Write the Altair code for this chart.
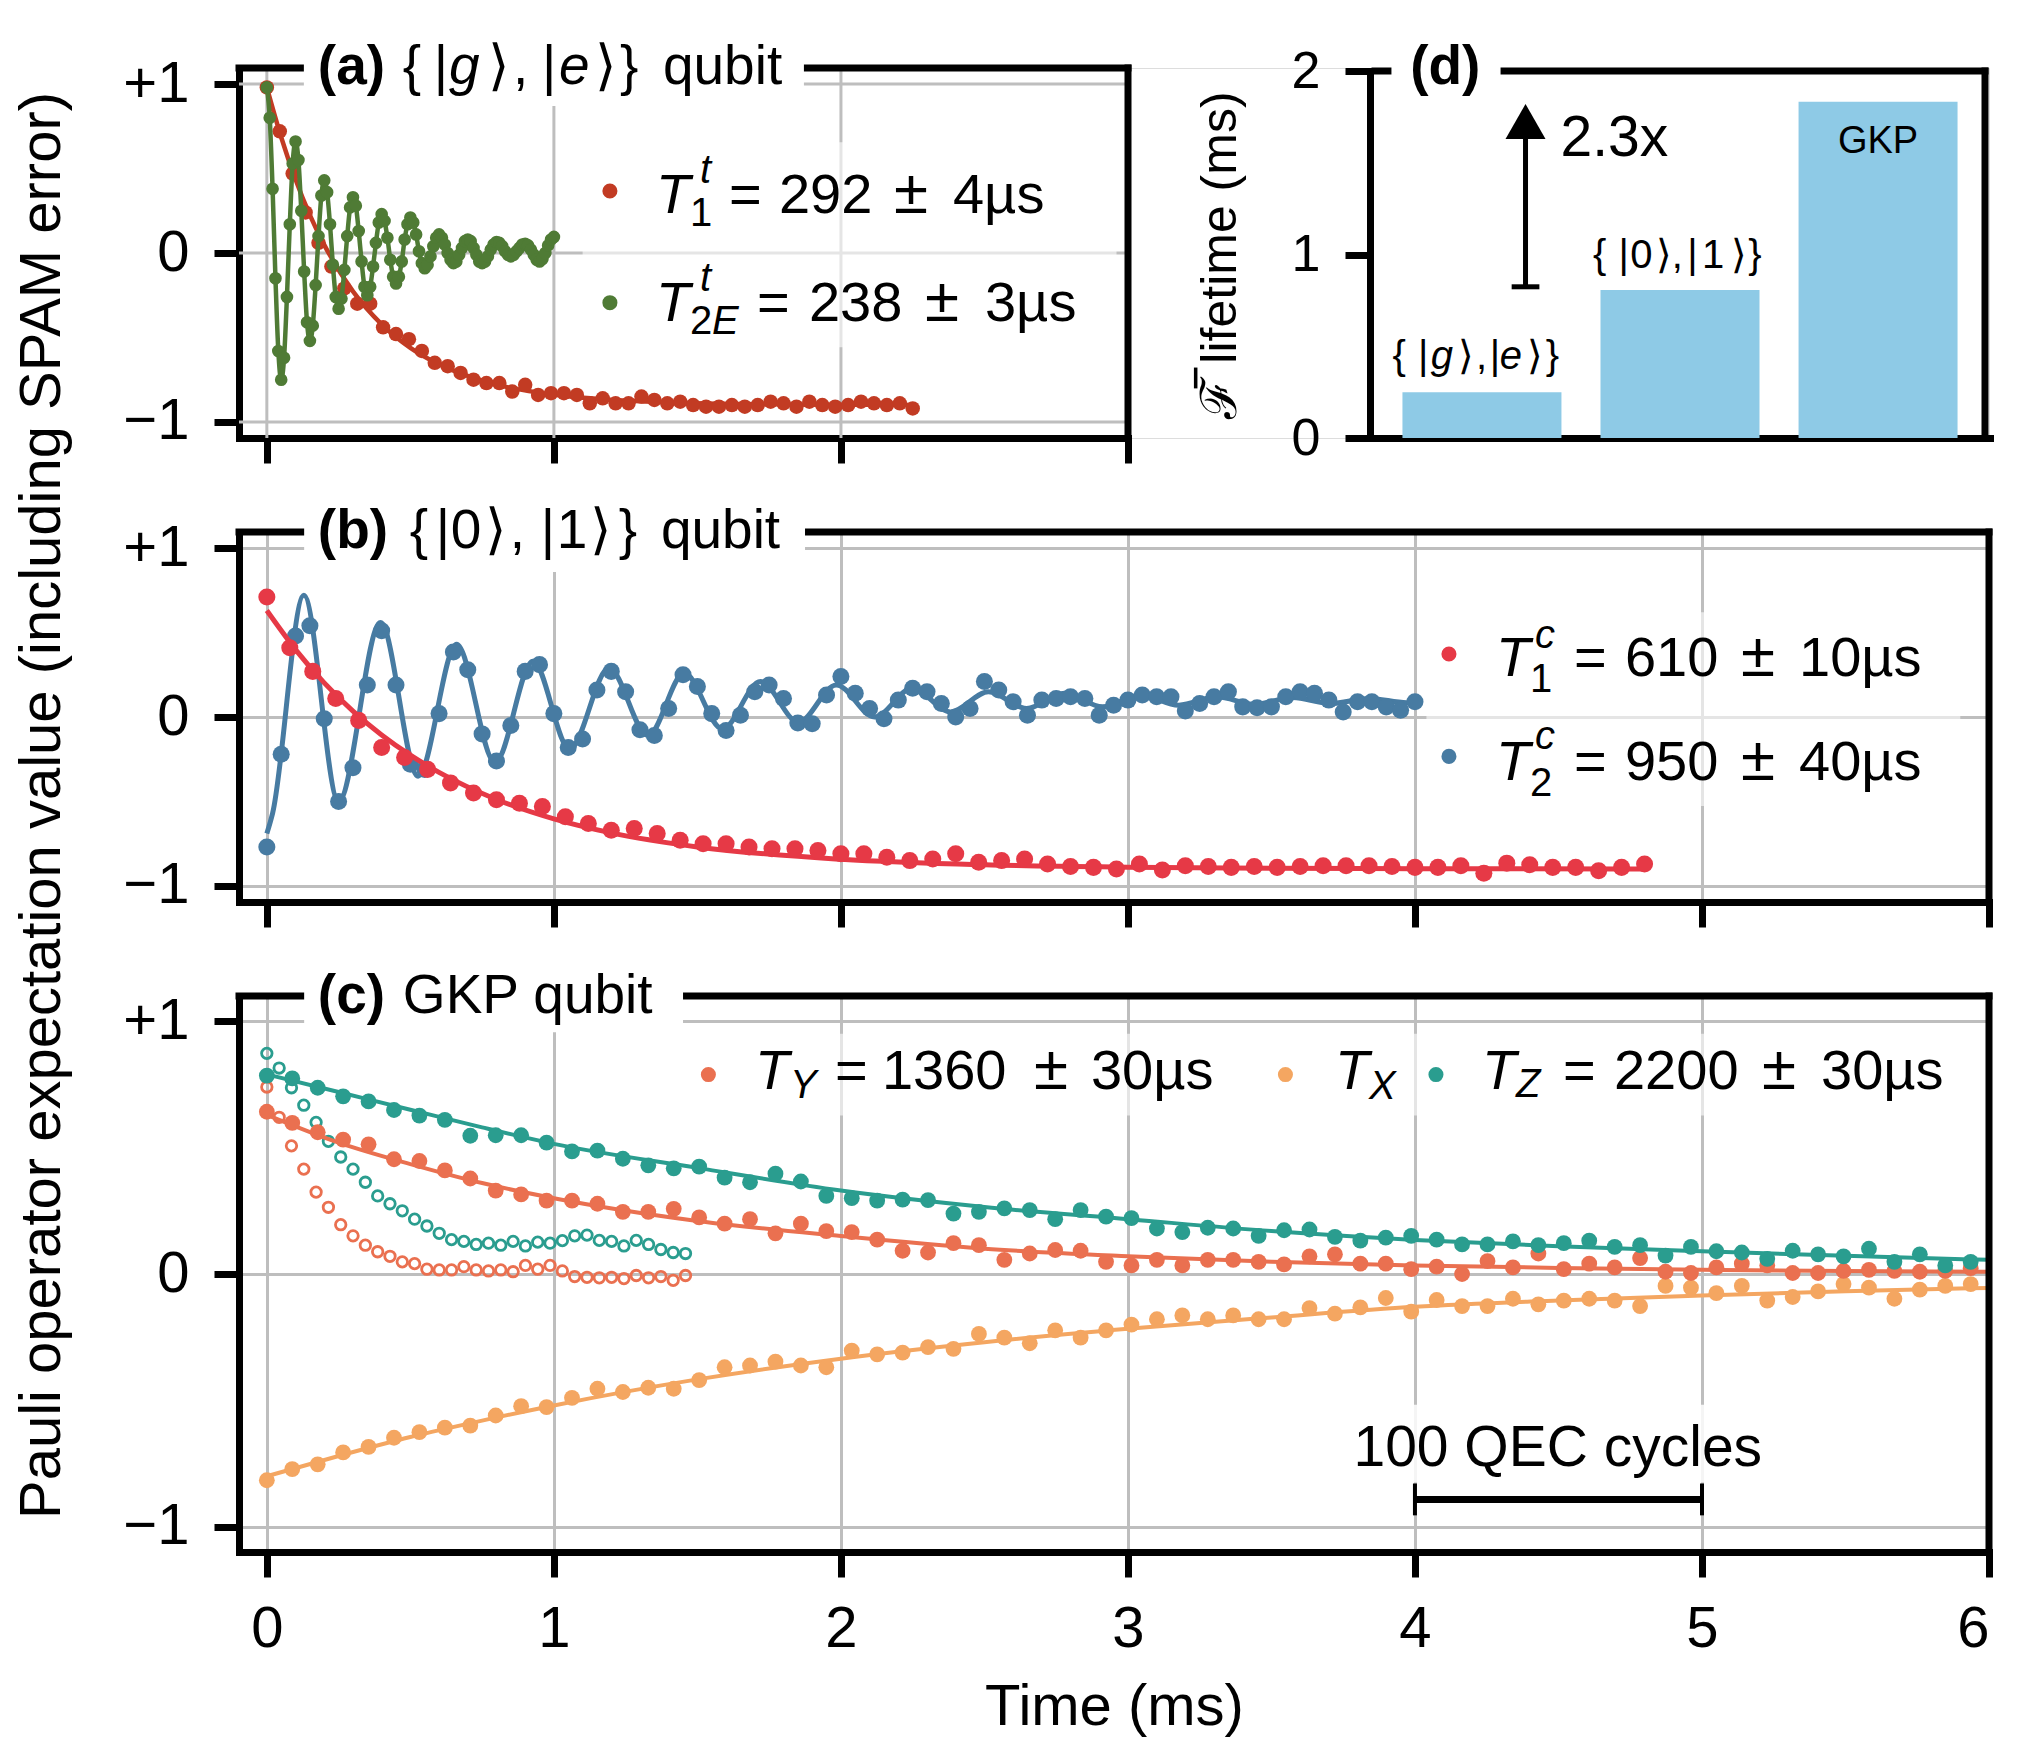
import altair as alt
import pandas as pd

FONT = "Liberation Sans"
BLACK = "#000000"
GRID = "#bebebe"
LW = 7

C_A_T1 = "#c23b23"
C_A_T2 = "#4f7b35"
C_B_T1 = "#e63946"
C_B_T2 = "#477ba2"
C_Y = "#ea7050"
C_X = "#f4a661"
C_Z = "#2a9d8f"
C_BAR = "#8ecae6"

# ---------------- (a) transmon qubit ----------------
a_t1_dt = 0.045
a_t1 = [0.98, 0.72, 0.47, 0.24, 0.06, -0.08, -0.21, -0.30, -0.30, -0.44, -0.48, -0.51, -0.58,
        -0.65, -0.67, -0.71, -0.75, -0.77, -0.77, -0.82, -0.78, -0.84, -0.83, -0.83, -0.84,
        -0.89, -0.86, -0.89, -0.89, -0.85, -0.87, -0.89, -0.88, -0.90, -0.91, -0.91, -0.90,
        -0.91, -0.90, -0.88, -0.89, -0.91, -0.88, -0.90, -0.91, -0.90, -0.88, -0.89, -0.90,
        -0.89, -0.92]
a_t1_fit_t = [0, 0.05, 0.1, 0.15, 0.2, 0.3, 0.4, 0.5, 0.6, 0.8, 1.0, 1.2, 1.5, 1.8, 2.25]
a_t1_fit_v = [0.98, 0.685, 0.435, 0.224, 0.048, -0.227, -0.422, -0.561, -0.659, -0.779,
              -0.839, -0.869, -0.889, -0.896, -0.899]
a_t2_dt = 0.01
a_t2 = [0.98, 0.80, 0.38, -0.15, -0.58, -0.75, -0.62, -0.26, 0.17, 0.53,
        0.66, 0.55, 0.25, -0.11, -0.41, -0.52, -0.43, -0.19, 0.10, 0.34,
        0.43, 0.36, 0.17, -0.07, -0.26, -0.33, -0.27, -0.10, 0.10, 0.27,
        0.33, 0.28, 0.13, -0.05, -0.20, -0.25, -0.20, -0.08, 0.06, 0.18,
        0.23, 0.19, 0.09, -0.04, -0.14, -0.18, -0.14, -0.05, 0.08, 0.17,
        0.21, 0.18, 0.11, 0.01, -0.06, -0.09, -0.07, -0.02, 0.04, 0.09,
        0.11, 0.09, 0.05, 0.00, -0.04, -0.06, -0.05, -0.01, 0.03, 0.07,
        0.08, 0.07, 0.03, -0.01, -0.05, -0.06, -0.05, -0.02, 0.02, 0.05,
        0.065, 0.06, 0.04, 0.01, -0.01, -0.02, -0.01, 0.01, 0.03, 0.05,
        0.055, 0.045, 0.02, -0.01, -0.04, -0.05, -0.035, 0.0, 0.045, 0.08,
        0.095]

# ---------------- (b) cavity Fock qubit ----------------
b_t1_dt = 0.08
b_t1 = [0.71, 0.41, 0.27, 0.11, -0.02, -0.18, -0.24, -0.31, -0.39, -0.45, -0.49, -0.51,
        -0.53, -0.59, -0.63, -0.67, -0.66, -0.69, -0.73, -0.75, -0.75, -0.77, -0.78, -0.78,
        -0.79, -0.81, -0.81, -0.83, -0.85, -0.84, -0.81, -0.86, -0.85, -0.84, -0.87, -0.885,
        -0.89, -0.90, -0.87, -0.905, -0.88, -0.885, -0.89, -0.885, -0.89, -0.885, -0.88,
        -0.88, -0.88, -0.885, -0.89, -0.89, -0.88, -0.925, -0.865, -0.875, -0.89, -0.89,
        -0.91, -0.89, -0.87]
b_t1_fit_t = [0, 0.1, 0.2, 0.3, 0.4, 0.5, 0.6, 0.8, 1.0, 1.2, 1.5, 2.0, 2.5, 3.0, 3.5, 4.0, 4.8]
b_t1_fit_v = [0.63, 0.399, 0.202, 0.035, -0.106, -0.226, -0.328, -0.488, -0.603, -0.686,
              -0.769, -0.842, -0.875, -0.889, -0.895, -0.898, -0.899]
b_t2_dt = 0.05
b_t2 = [-0.77, -0.22, 0.48, 0.54, -0.01, -0.50, -0.30, 0.19, 0.51, 0.19,
        -0.28, -0.31, 0.02, 0.385, 0.28, -0.10, -0.26, -0.05, 0.27, 0.31,
        0.02, -0.18, -0.13, 0.16, 0.27, 0.15, -0.075, -0.11, 0.05, 0.25,
        0.18, 0.02, -0.08, 0.01, 0.15, 0.19, 0.11, -0.035, -0.04, 0.13,
        0.24, 0.14, 0.05, -0.01, 0.10, 0.17, 0.15, 0.08, 0.0, 0.05,
        0.21, 0.16, 0.09, 0.01, 0.10, 0.11, 0.12, 0.11, 0.01, 0.07,
        0.10, 0.13, 0.12, 0.12, 0.035, 0.08, 0.12, 0.15, 0.06, 0.055,
        0.06, 0.12, 0.15, 0.14, 0.10, 0.03, 0.09, 0.09, 0.06, 0.04,
        0.09]
b_t2_fit_t = [0, 0.02, 0.129, 0.250, 0.396, 0.527, 0.661, 0.795, 0.927, 1.055, 1.192, 1.328,
              1.454, 1.587, 1.72, 1.852, 1.984, 2.117, 2.249, 2.382, 2.514, 2.647, 2.779,
              2.912, 3.044, 3.177, 3.309, 3.442, 3.574, 3.707, 3.839, 3.972, 4.0]
b_t2_fit_v = [-0.69, -0.57, 0.72, -0.50, 0.56, -0.35, 0.43, -0.27, 0.33, -0.19, 0.29, -0.11,
              0.26, -0.07, 0.21, -0.03, 0.19, 0.0, 0.17, 0.03, 0.15, 0.05, 0.14,
              0.06, 0.13, 0.07, 0.12, 0.075, 0.115, 0.08, 0.11, 0.085, 0.087]

# ---------------- (c) GKP qubit ----------------
c_dt = 0.0886
c_y = [0.642, 0.598, 0.561, 0.532, 0.513, 0.454, 0.447, 0.41, 0.378, 0.33, 0.315, 0.29,
       0.29, 0.278, 0.246, 0.246, 0.258, 0.224, 0.199, 0.217, 0.161, 0.199, 0.17, 0.166,
       0.136, 0.092, 0.085, 0.122, 0.114, 0.056, 0.081, 0.095, 0.092, 0.048, 0.034, 0.056,
       0.034, 0.056, 0.056, 0.048, 0.038, 0.07, 0.078, 0.041, 0.041, 0.019, 0.029, 0.0,
       0.051, 0.026, 0.081, 0.019, 0.041, 0.026, 0.063, 0.009, 0.004, 0.026, 0.041, 0.034,
       0.004, 0.004, 0.012, 0.016, 0.012, 0.009, 0.012, 0.023]
c_x = [-0.816, -0.772, -0.753, -0.706, -0.684, -0.648, -0.626, -0.608, -0.60, -0.56, -0.523,
       -0.527, -0.49, -0.454, -0.467, -0.45, -0.454, -0.42, -0.369, -0.362, -0.347, -0.362,
       -0.369, -0.303, -0.318, -0.311, -0.289, -0.296, -0.237, -0.252, -0.274, -0.223,
       -0.252, -0.223, -0.20, -0.179, -0.164, -0.179, -0.164, -0.179, -0.179, -0.135,
       -0.157, -0.132, -0.095, -0.149, -0.103, -0.127, -0.127, -0.098, -0.12, -0.105,
       -0.098, -0.105, -0.127, -0.047, -0.054, -0.076, -0.047, -0.105, -0.091, -0.069,
       -0.04, -0.054, -0.098, -0.062, -0.047, -0.04]
c_z = [0.785, 0.774, 0.737, 0.703, 0.683, 0.649, 0.627, 0.61, 0.547, 0.549, 0.549, 0.52,
       0.485, 0.488, 0.456, 0.43, 0.418, 0.425, 0.381, 0.363, 0.397, 0.366, 0.309, 0.30,
       0.29, 0.294, 0.292, 0.239, 0.246, 0.26, 0.253, 0.217, 0.253, 0.227, 0.221, 0.18,
       0.166, 0.183, 0.18, 0.151, 0.173, 0.176, 0.147, 0.132, 0.144, 0.151, 0.136, 0.117,
       0.117, 0.129, 0.114, 0.122, 0.132, 0.107, 0.114, 0.073, 0.107, 0.09, 0.085, 0.06,
       0.092, 0.078, 0.07, 0.10, 0.048, 0.078, 0.034, 0.048]
c_open_dt = 0.0429
c_open_z = [0.873, 0.815, 0.737, 0.668, 0.60, 0.525, 0.463, 0.415, 0.363, 0.309, 0.278, 0.25,
            0.217, 0.19, 0.161, 0.136, 0.129, 0.117, 0.122, 0.114, 0.129, 0.111, 0.126, 0.122,
            0.132, 0.151, 0.154, 0.133, 0.129, 0.111, 0.133, 0.117, 0.097, 0.085, 0.081]
c_open_y = [0.74, 0.62, 0.507, 0.415, 0.324, 0.264, 0.195, 0.151, 0.114, 0.088, 0.07, 0.048,
            0.041, 0.019, 0.016, 0.016, 0.029, 0.016, 0.012, 0.016, 0.009, 0.034, 0.019, 0.034,
            0.012, -0.01, -0.013, -0.015, -0.013, -0.018, -0.006, -0.015, -0.01, -0.025, -0.006]
c_fit_t = [0, 0.25, 0.5, 0.75, 1.0, 1.5, 2.0, 2.5, 3.0, 3.5, 4.0, 4.5, 5.0, 5.5, 6.0]
c_fit_y = [0.63, 0.52, 0.435, 0.36, 0.30, 0.21, 0.15, 0.10, 0.07, 0.048, 0.034, 0.024, 0.017, 0.012, 0.009]
c_fit_x = [-0.80, -0.72, -0.645, -0.58, -0.52, -0.417, -0.335, -0.27, -0.217, -0.172, -0.13,
           -0.105, -0.085, -0.068, -0.055]
c_fit_z = [0.79, 0.72, 0.65, 0.58, 0.515, 0.42, 0.33, 0.265, 0.217, 0.17, 0.135, 0.11, 0.09,
           0.072, 0.056]

# ---------------- (d) lifetimes ----------------
d_names = ["{|g⟩, |e⟩}", "{|0⟩, |1⟩}", "GKP"]
d_pos = [0, 1, 2]
d_vals = [0.25, 0.806, 1.833]
d_ticks = [0, 1, 2]
d_ratio_label = "2.3x"
d_arrow_x = 0.22
d_arrow_from = 0.824
d_arrow_to = 1.82


def series(dt, vals):
    return pd.DataFrame({"t": [round(i * dt, 4) for i in range(len(vals))], "v": vals})


def pairs(ts, vs):
    return pd.DataFrame({"t": ts, "v": vs})


def mk_axis_y(grid):
    return alt.Axis(values=[-1, 0, 1],
                    labelExpr="datum.value > 0 ? '+1' : (datum.value < 0 ? '\u22121' : '0')",
                    labelFont=FONT, labelFontSize=58, labelColor=BLACK, labelPadding=25,
                    labelOverlap=False,
                    tickSize=25, tickWidth=LW, tickColor=BLACK, domain=True, domainColor=BLACK,
                    domainWidth=LW, domainCap="square", grid=grid, gridColor=GRID, gridWidth=3,
                    title=None)


def mk_axis_x(values, labels, grid, title=None):
    kw = dict(values=values, labels=labels, labelFont=FONT, labelFontSize=58, labelColor=BLACK,
              labelPadding=23, labelOverlap=False, tickSize=25, tickWidth=LW, tickColor=BLACK,
              domain=True, domainColor=BLACK, domainWidth=LW, domainCap="square", grid=grid,
              gridColor=GRID, gridWidth=3)
    if title:
        kw.update(title=title, titleFont=FONT, titleFontSize=58, titleFontWeight="normal",
                  titleColor=BLACK, titlePadding=20)
    else:
        kw["title"] = None
    return alt.Axis(**kw)


def scale(dom, rng=None):
    kw = dict(domain=dom, nice=False, zero=False)
    if rng is not None:
        kw["range"] = rng
    return alt.Scale(**kw)


class Panel:
    def __init__(self, xdom, ydom, xaxis, yaxis, xmap, ymap, xr=None, yr=None):
        self.xdom, self.ydom = xdom, ydom
        self.xaxis, self.yaxis = xaxis, yaxis
        self.xmap, self.ymap = xmap, ymap
        self.xr, self.yr = xr, yr

    def X(self, f):
        return alt.X(f"{f}:Q", scale=scale(self.xdom, self.xr), axis=self.xaxis)

    def Y(self, f):
        return alt.Y(f"{f}:Q", scale=scale(self.ydom, self.yr), axis=self.yaxis)

    def line(self, df, color, width=4.5):
        return alt.Chart(df).mark_line(color=color, strokeWidth=width, interpolate="monotone").encode(
            x=self.X("t"), y=self.Y("v"))

    def dots(self, df, color, size=200):
        return alt.Chart(df).mark_circle(color=color, size=size, opacity=1).encode(
            x=self.X("t"), y=self.Y("v"))

    def rings(self, df, color, size=110):
        return alt.Chart(df).mark_point(color=color, size=size, strokeWidth=2.8, filled=False,
                                        opacity=1).encode(x=self.X("t"), y=self.Y("v"))

    def box(self, x1, x2, y1, y2, opacity=1.0):
        df = pd.DataFrame({"x": [x1], "x2": [x2], "y": [y1], "y2": [y2]})
        return alt.Chart(df).mark_rect(color="white", opacity=opacity).encode(
            x=self.X("x"), x2="x2", y=self.Y("y"), y2="y2")

    def frame(self):
        x0, x1 = self.xdom
        y0, y1 = self.ydom
        top = pd.DataFrame({"x": [x0], "x2": [x1], "y": [y1]})
        right = pd.DataFrame({"x": [x1], "y": [y0], "y2": [y1]})
        return [
            alt.Chart(top).mark_rule(color=BLACK, strokeWidth=LW, strokeCap="square").encode(
                x=self.X("x"), x2="x2", y=self.Y("y")),
            alt.Chart(right).mark_rule(color=BLACK, strokeWidth=LW, strokeCap="square").encode(
                x=self.X("x"), y=self.Y("y"), y2="y2"),
        ]

    def legend_dots(self, pts, size=227):
        df = pd.DataFrame([{"x": self.xmap(px), "y": self.ymap(py), "c": c} for px, py, c in pts])
        return alt.Chart(df).mark_circle(size=size, opacity=1).encode(
            x=self.X("x"), y=self.Y("y"), color=alt.Color("c:N", scale=None))

    def texts(self, rows):
        recs = []
        for r in rows:
            text, px, py, style, size, align = r
            recs.append({"s": text, "x": self.xmap(px), "y": self.ymap(py),
                         "st": style, "fs": size, "al": align})
        df = pd.DataFrame(recs)
        out = []
        for (st, fs, al), g in df.groupby(["st", "fs", "al"]):
            out.append(alt.Chart(g.reset_index(drop=True)).mark_text(
                align=al, baseline="alphabetic", font=FONT, fontSize=int(fs),
                fontStyle="italic" if st == "i" else "normal",
                fontWeight="bold" if st == "b" else "normal", color=BLACK).encode(
                x=self.X("x"), y=self.Y("y"), text="s:N"))
        return out


def T(text, px, py, style="n", size=56, align="left"):
    return (text, px, py, style, size, align)


PM = 62  # size of the plus-minus sign

# ======================= panel (a) =======================
pa = Panel([-0.097, 3.0], [-1.095, 1.095],
           mk_axis_x([0, 1, 2, 3], False, False), mk_axis_y(False),
           lambda px: (px - 265.0) / 287.0, lambda py: (252.0 - py) / 169.0,
           xr=[0, 889])

grid_v = pd.DataFrame({"x": [0, 1, 2, 3], "y": [-1.095] * 4, "y2": [1.095] * 4})
grid_h = pd.DataFrame({"y": [-1, 0, 1], "x": [-0.097] * 3, "x2": [3.0] * 3})
a_layers = [
    alt.Chart(grid_v).mark_rule(color=GRID, strokeWidth=3).encode(x=pa.X("x"), y=pa.Y("y"), y2="y2"),
    alt.Chart(grid_h).mark_rule(color=GRID, strokeWidth=3).encode(y=pa.Y("y"), x=pa.X("x"), x2="x2"),
    pa.box(1.10, 2.96, -0.558, 0.656, 0.6),
    pa.line(pairs(a_t1_fit_t, a_t1_fit_v), C_A_T1, 4.5),
    pa.dots(series(a_t1_dt, a_t1), C_A_T1, 210),
    pa.line(series(a_t2_dt, a_t2), C_A_T2, 4.5),
    pa.dots(series(a_t2_dt, a_t2), C_A_T2, 160),
] + pa.frame() + [
    pa.box(0.129, 1.871, 0.87, 1.314),
    pa.legend_dots([(608, 190, C_A_T1), (608, 301.7, C_A_T2)]),
] + pa.texts([
    T("(a)", 316, 83.3, "b", 55), T("{", 401, 83.3, "n", 55), T("|", 432, 83.3, "n", 55),
    T("g", 447, 83.3, "i", 55), T("⟩", 486, 83.3, "n", 55), T(",", 511, 83.3, "n", 55),
    T("|", 540, 83.3, "n", 55), T("e", 557, 83.3, "i", 55), T("⟩", 593, 83.3, "n", 55),
    T("}", 618, 83.3, "n", 55), T("qubit", 661, 83.3, "n", 55),
    T("T", 654, 211.7, "i"), T("1", 688, 225, "n", 40), T("t", 698, 182, "i", 40),
    T("=", 727, 211.7), T("292", 777, 211.7), T("±", 892, 211.7, "n", PM), T("4µs", 951, 211.7),
    T("T", 654, 320, "i"), T("2", 688, 333, "n", 40), T("E", 710, 333, "i", 40),
    T("t", 698, 290, "i", 40), T("=", 755, 320), T("238", 807, 320), T("±", 923, 320, "n", PM),
    T("3µs", 983, 320),
])

# ======================= panel (d) =======================
d_yaxis = alt.Axis(values=d_ticks, labelExpr="'' + round(datum.value)", orient="left",
                   offset=-1131, labelFont=FONT,
                   labelFontSize=52, labelColor=BLACK, labelPadding=25, labelOverlap=False,
                   tickSize=25, tickWidth=LW, tickColor=BLACK, domain=True, domainColor=BLACK,
                   domainWidth=LW, domainCap="square", grid=False,
                   title="ℱ\u0305 lifetime (ms)", titleFont=FONT, titleFontSize=50,
                   titleFontWeight="normal", titleColor=BLACK, titlePadding=46)
d_xaxis = alt.Axis(orient="bottom", labels=False, ticks=False, domain=True, domainColor=BLACK,
                   domainWidth=LW, domainCap="square", grid=False, title=None)
pd_ = Panel([-0.54, 2.54], [0, 2], d_xaxis, d_yaxis,
            lambda px: (px - 1477.0) / 201.5, lambda py: (437.0 - py) / 183.5,
            xr=[1131, 1751], yr=[370, 3])

bars = pd.DataFrame({"pos": d_pos, "val": d_vals, "name": d_names})
arrow_shaft = pd.DataFrame({"x": [d_arrow_x], "y": [d_arrow_from], "y2": [1.64]})
arrow_cap = pd.DataFrame({"x": [d_arrow_x - 0.07], "x2": [d_arrow_x + 0.07], "y": [d_arrow_from]})
arrow_head = pd.DataFrame({"x": [d_arrow_x], "y": [(d_arrow_to + 1.63) / 2]})
DL = 40
d_layers = [
    alt.Chart(bars).mark_bar(size=159, color=C_BAR).encode(x=pd_.X("pos"), y=pd_.Y("val")),
    alt.Chart(arrow_shaft).mark_rule(color=BLACK, strokeWidth=5).encode(
        x=pd_.X("x"), y=pd_.Y("y"), y2="y2"),
    alt.Chart(arrow_cap).mark_rule(color=BLACK, strokeWidth=5).encode(
        x=pd_.X("x"), x2="x2", y=pd_.Y("y")),
    alt.Chart(arrow_head).mark_point(shape="M-1,0.875L0,-0.875L1,0.875Z", size=1600,
                                     filled=True, color=BLACK, opacity=1, strokeWidth=0).encode(
        x=pd_.X("x"), y=pd_.Y("y")),
] + pd_.frame() + [
    pd_.box(-0.457, 0.094, 1.9, 2.218),
] + pd_.texts([
    T("(d)", 1404, 83, "b", 55),
    T("{", 1386, 368, "n", DL), T("|", 1412, 368, "n", DL), T("g", 1425, 368, "i", DL),
    T("⟩", 1453, 368, "n", DL), T(",", 1471, 368, "n", DL), T("|", 1485, 368, "n", DL),
    T("e", 1495, 368, "i", DL), T("⟩", 1523, 368, "n", DL), T("}", 1542, 368, "n", DL),
    T("{", 1590, 267, "n", DL), T("|", 1616, 267, "n", DL), T("0", 1628, 267, "n", DL),
    T("⟩", 1654, 267, "n", DL), T(",", 1670, 267, "n", DL), T("|", 1686, 267, "n", DL),
    T("1", 1701, 267, "n", DL), T("⟩", 1730, 267, "n", DL), T("}", 1748, 267, "n", DL),
    T("GKP", 1880, 152, "n", 38, "center"),
    T(d_ratio_label, 1557, 155, "n", 57),
])

top = alt.layer(alt.layer(*a_layers), alt.layer(*d_layers)).resolve_scale(
    x="independent", y="independent").properties(width=1750, height=370)

# ======================= panel (b) =======================
pb = Panel([-0.097, 6.0], [-1.095, 1.095],
           mk_axis_x([0, 1, 2, 3, 4, 5, 6], False, True), mk_axis_y(True),
           lambda px: (px - 265.0) / 287.0, lambda py: (717.0 - py) / 169.0)
b_layers = [
    pb.box(4.04, 5.90, -0.527, 0.62, 0.6),
    pb.line(pairs(b_t2_fit_t, b_t2_fit_v), C_B_T2, 5),
    pb.dots(series(b_t2_dt, b_t2), C_B_T2, 290),
    pb.line(pairs(b_t1_fit_t, b_t1_fit_v), C_B_T1, 5),
    pb.dots(series(b_t1_dt, b_t1), C_B_T1, 290),
] + pb.frame() + [
    pb.box(0.13, 1.875, 0.858, 1.30),
    pb.legend_dots([(1447, 654, C_B_T1), (1447, 756.4, C_B_T2)]),
] + pb.texts([
    T("(b)", 316, 548, "b", 55), T("{", 408, 548, "n", 55), T("|", 434, 548, "n", 55),
    T("0", 449, 548, "n", 55), T("⟩", 483, 548, "n", 55), T(",", 508, 548, "n", 55),
    T("|", 539, 548, "n", 55), T("1", 555, 548, "n", 55), T("⟩", 588, 548, "n", 55),
    T("}", 617, 548, "n", 55), T("qubit", 659, 548, "n", 55),
    T("T", 1494, 676, "i"), T("1", 1528, 692, "n", 40), T("c", 1533, 647.5, "i", 40),
    T("=", 1572, 676), T("610", 1623, 676), T("±", 1739, 676, "n", PM), T("10µs", 1797, 676),
    T("T", 1494, 779.6, "i"), T("2", 1528, 795.7, "n", 40), T("c", 1533, 749, "i", 40),
    T("=", 1572, 779.6), T("950", 1623, 779.6), T("±", 1739, 779.6, "n", PM),
    T("40µs", 1797, 779.6),
])
panel_b = alt.layer(*b_layers).properties(width=1750, height=370)

# ======================= panel (c) =======================
pc = Panel([-0.097, 6.0], [-1.1, 1.1],
           mk_axis_x([0, 1, 2, 3, 4, 5, 6], True, True, "Time (ms)"), mk_axis_y(True),
           lambda px: (px - 265.0) / 287.0, lambda py: (1274.4 - py) / 252.7)
scalebar = pd.DataFrame({"x": [4.0], "x2": [5.0], "y": [-0.892]})
scalecaps = pd.DataFrame({"x": [4.0, 5.0], "y": [-0.955, -0.955], "y2": [-0.829, -0.829]})
c_layers = [
    pc.box(1.45, 5.93, 0.627, 0.951, 0.6),
    pc.box(3.745, 5.24, -0.825, -0.517, 0.85),
    pc.rings(series(c_open_dt, c_open_y), C_Y),
    pc.rings(series(c_open_dt, c_open_z), C_Z),
    pc.line(pairs(c_fit_t, c_fit_x), C_X, 4),
    pc.dots(series(c_dt, c_x), C_X, 250),
    pc.line(pairs(c_fit_t, c_fit_y), C_Y, 4),
    pc.dots(series(c_dt, c_y), C_Y, 250),
    pc.line(pairs(c_fit_t, c_fit_z), C_Z, 4),
    pc.dots(series(c_dt, c_z), C_Z, 250),
    alt.Chart(scalebar).mark_rule(color=BLACK, strokeWidth=7).encode(
        x=pc.X("x"), x2="x2", y=pc.Y("y")),
    alt.Chart(scalecaps).mark_rule(color=BLACK, strokeWidth=4).encode(
        x=pc.X("x"), y=pc.Y("y"), y2="y2"),
] + pc.frame() + [
    pc.box(0.13, 1.45, 0.957, 1.24),
    pc.legend_dots([(706.5, 1075, C_Y), (1283.5, 1075, C_X), (1434, 1075, C_Z)]),
] + pc.texts([
    T("(c)", 316, 1013, "b", 55), T("GKP qubit", 401, 1013, "n", 55),
    T("T", 753, 1089, "i"), T("Y", 788, 1098, "i", 40), T("=", 833, 1089),
    T("1360", 880, 1089), T("±", 1032, 1089, "n", PM), T("30µs", 1089, 1089),
    T("T", 1333, 1089, "i"), T("X", 1367, 1099, "i", 40),
    T("T", 1480, 1089, "i"), T("Z", 1514, 1097, "i", 40), T("=", 1561, 1089),
    T("2200", 1612, 1089), T("±", 1760, 1089, "n", PM), T("30µs", 1819, 1089),
    T("100 QEC cycles", 1555.8, 1466, "n", 57, "center"),
])
panel_c = alt.layer(*c_layers).properties(width=1750, height=556)

chart = alt.vconcat(top, panel_b, panel_c, spacing=94, bounds="flush").properties(
    title=alt.TitleParams(text="Pauli operator expectation value (including SPAM error)",
                          orient="left", anchor="middle", font=FONT, fontSize=58,
                          fontWeight="normal", color=BLACK, offset=50, dx=78),
    padding={"left": 6, "top": 22, "right": 5, "bottom": 5},
).configure_view(stroke=None).configure(font=FONT)

chart.save("out.html", embed_options={"renderer": "svg", "actions": False})
